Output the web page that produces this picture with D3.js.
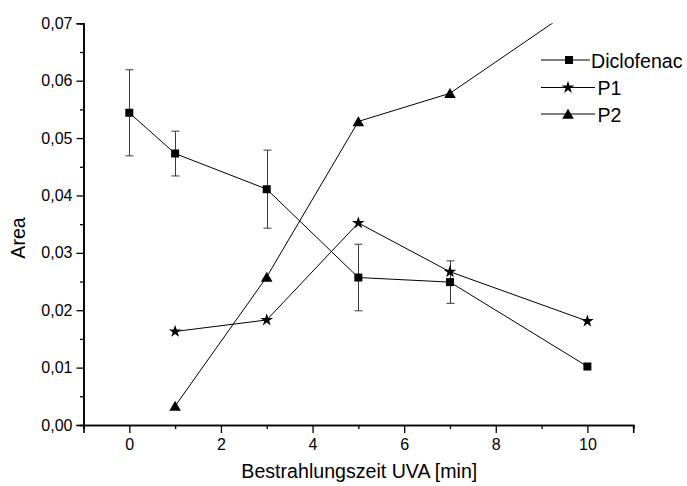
<!DOCTYPE html>
<html>
<head>
<meta charset="utf-8">
<script src="https://cdn.jsdelivr.net/npm/d3@7"></script>
<style>
  html, body { margin: 0; padding: 0; background: #fff; }
  svg { display: block; font-family: "Liberation Sans", Arial, Helvetica, sans-serif; }
</style>
</head>
<body>
<svg id="chart" width="687" height="486"></svg>
<script>
// Irradiation time (min) and measured peak areas
const timeDiclofenac = [0, 1, 3, 5, 7, 10];
const diclofenac     = [0.0544, 0.0473, 0.0411, 0.0257, 0.0249, 0.0102];
const diclofenacErr  = [0.0075, 0.0039, 0.0068, 0.0058, 0.0037, 0.0];

const timeProducts = [1, 3, 5, 7, 10];
const p1 = [0.0163, 0.0183, 0.0352, 0.0267, 0.0181];
const p2 = [0.0033, 0.0258, 0.0529, 0.0578, 0.0742];

const xTicks = [0, 2, 4, 6, 8, 10];
const yTicks = [0, 0.01, 0.02, 0.03, 0.04, 0.05, 0.06, 0.07];
const seriesNames = ["Diclofenac", " P1", " P2"];

const svg = d3.select("#chart");
const plotLeft = 83.5, plotRight = 633.2, plotTop = 23.3, plotBottom = 425;

const x = d3.scaleLinear().domain([-1, 11]).range([plotLeft, plotRight]);
const y = d3.scaleLinear().domain([0, 0.07]).range([plotBottom, plotTop]);

svg.append("defs").append("clipPath").attr("id", "plotClip")
  .append("rect").attr("x", plotLeft).attr("y", plotTop)
  .attr("width", plotRight - plotLeft).attr("height", plotBottom - plotTop);

const fmt = d => d3.format(".2f")(d).replace(".", ",");

// Axes: majors with labels, minors in between
const yAxis = d3.axisLeft(y).tickValues(yTicks).tickFormat(fmt).tickSize(7).tickPadding(4);
const yMinor = d3.axisLeft(y).tickValues(d3.range(0.005, 0.07, 0.01)).tickFormat("").tickSize(3.5);
const xAxis = d3.axisBottom(x).tickValues(xTicks).tickFormat(d3.format("d")).tickSize(8).tickPadding(6);
const xMinor = d3.axisBottom(x).tickValues([-1, 1, 3, 5, 7, 9, 11]).tickFormat("").tickSize(4);

function styleAxis(g) {
  g.select(".domain").attr("stroke", "#000").attr("stroke-width", 1.6);
  g.selectAll(".tick line").attr("stroke", "#000").attr("stroke-width", 1.3);
  g.selectAll(".tick text").attr("fill", "#000").style("font-size", "16px");
}

svg.append("g").attr("transform", `translate(${plotLeft},0)`).call(yMinor).call(styleAxis);
svg.append("g").attr("transform", `translate(${plotLeft},0)`).call(yAxis).call(styleAxis);
svg.append("g").attr("transform", `translate(0,${plotBottom})`).call(xMinor).call(styleAxis);
svg.append("g").attr("transform", `translate(0,${plotBottom})`).call(xAxis).call(styleAxis);

// Axis titles
svg.append("text").attr("x", (plotLeft + plotRight) / 2 + 1).attr("y", 478)
  .attr("text-anchor", "middle").style("font-size", "19.6px").text("Bestrahlungszeit UVA [min]");
svg.append("text").attr("transform", `translate(25,238) rotate(-90)`)
  .attr("text-anchor", "middle").style("font-size", "19.6px").text("Area");

// Marker shapes
const square = "M-4,-4H4V4H-4Z";
const triangle = "M0,-5.2L5.8,4.8H-5.8Z";
const star = d3.symbol(d3.symbolStar, 50)();

const plot = svg.append("g").attr("clip-path", "url(#plotClip)");
const line = d3.line().x(d => x(d[0])).y(d => y(d[1]));

const series = [
  { t: timeDiclofenac, v: diclofenac, shape: square },
  { t: timeProducts, v: p1, shape: star },
  { t: timeProducts, v: p2, shape: triangle }
];

// Error bars on Diclofenac
const eb = plot.append("g").attr("stroke", "#3a3a3a").attr("stroke-width", 1);
timeDiclofenac.forEach((t, i) => {
  const e = diclofenacErr[i];
  if (!e) return;
  const cx = Math.round(x(t)) + 0.5;
  const y1 = y(diclofenac[i] + e), y2 = y(diclofenac[i] - e);
  eb.append("line").attr("x1", cx).attr("x2", cx).attr("y1", y1).attr("y2", y2);
  eb.append("line").attr("x1", cx - 4).attr("x2", cx + 4).attr("y1", y1).attr("y2", y1);
  eb.append("line").attr("x1", cx - 4).attr("x2", cx + 4).attr("y1", y2).attr("y2", y2);
});

series.forEach(s => {
  const pts = s.t.map((t, i) => [t, s.v[i]]);
  plot.append("path").datum(pts).attr("d", line)
    .attr("fill", "none").attr("stroke", "#000").attr("stroke-width", 1);
  plot.selectAll(null).data(pts).enter().append("path")
    .attr("d", s.shape)
    .attr("transform", d => `translate(${x(d[0])},${y(d[1])})`)
    .attr("fill", "#000");
});

// Legend
const legendRows = [60, 87.5, 114];
const legendLineEnd = [590, 595, 595];
const legendText = [591, 592, 592];
series.forEach((s, i) => {
  const ly = legendRows[i];
  svg.append("line").attr("x1", 541).attr("x2", legendLineEnd[i])
    .attr("y1", ly).attr("y2", ly).attr("stroke", "#000").attr("stroke-width", 1);
  svg.append("path").attr("d", s.shape)
    .attr("transform", `translate(${i === 0 ? 569 : 568},${ly})`).attr("fill", "#000");
  svg.append("text").attr("x", legendText[i]).attr("y", ly + 7.5)
    .style("font-size", "19.6px").style("white-space", "pre").attr("xml:space", "preserve")
    .text(seriesNames[i]);
});
</script>
</body>
</html>
